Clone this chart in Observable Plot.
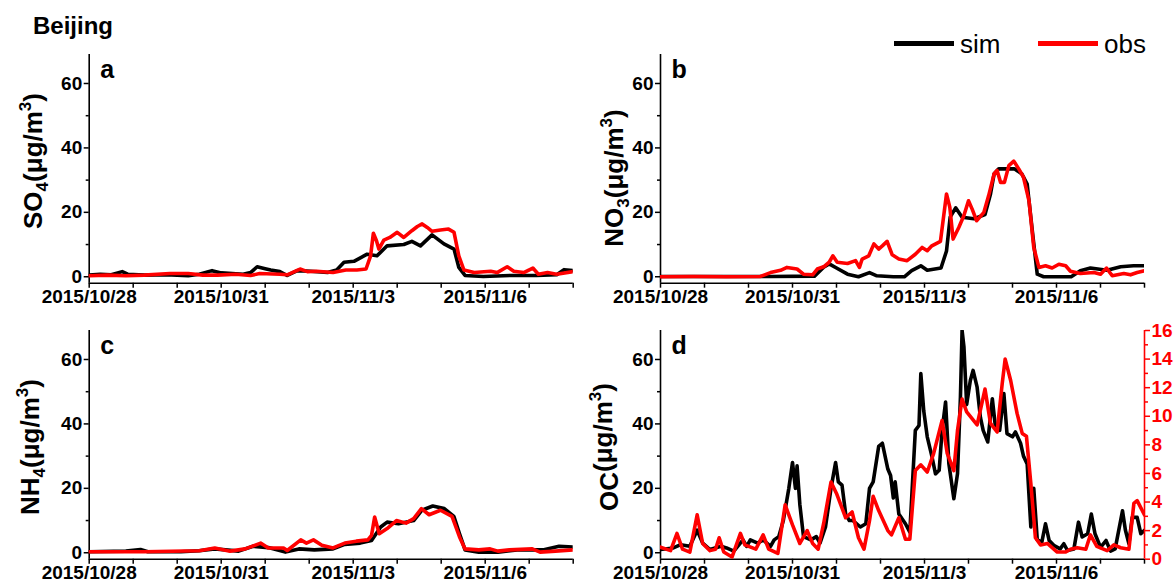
<!DOCTYPE html>
<html><head><meta charset="utf-8">
<script src="https://cdn.jsdelivr.net/npm/d3@7"></script>
<script src="https://cdn.jsdelivr.net/npm/@observablehq/plot@0.6"></script>
<style>
body{margin:0;background:#fff;}
#root{position:relative;width:1176px;height:588px;overflow:hidden;background:#fff;font-family:"Liberation Sans",Arial,sans-serif;}
#root svg{position:absolute;overflow:visible;}
</style></head><body><div id="root"></div>
<script>
// ---- data: [hours since 2015-10-28 00:00, value] ----
const so4Sim = [[0,0.5],[6,0.8],[12,0.6],[18,1.6],[21,0.8],[30,0.5],[42,0.6],[54,0.3],[60,0.8],[67,1.9],[72,1.2],[78,1.0],[84,0.8],[88,1.3],[91.6,3.1],[96,2.5],[99,2.1],[104,1.6],[108,0.4],[113.5,1.9],[120.7,1.7],[130,1.3],[135,2.1],[139,4.5],[144.4,4.8],[151.6,7],[157,6.5],[162.5,9.6],[171.6,10],[176,11],[180.7,9.6],[187,13],[193.5,10.2],[199,8.6],[201.6,2.9],[205,0.4],[215,0.1],[230,0.4],[244,0.4],[255,0.6],[259,2.2],[264,1.9]];
const so4Obs = [[0,0.3],[10,0.5],[20,0.3],[30,0.5],[44,1.0],[54,1.0],[62,0.5],[70,0.5],[80,0.8],[88,0.4],[93,1.0],[104,0.8],[108,0.6],[115,2.4],[119,1.6],[124,1.7],[133,1.3],[140,2.1],[146,2.1],[151,2.4],[153.5,6.5],[155,13.5],[156.7,11.2],[158,8.6],[160.7,11.4],[164,12.2],[168,13.8],[171.6,12.2],[176,14.3],[179,15.6],[181.6,16.4],[184.4,15.3],[187,14.1],[191.6,14.5],[196,14.8],[199,13.8],[201.6,6.5],[204.4,2.1],[210,1.3],[219,1.7],[222.5,1.3],[228,3.1],[231.6,1.7],[237,1.3],[242,2.7],[245,0.8],[250,1.3],[255,0.8],[264,1.6]];
const no3Sim = [[0,0.1],[60,0.1],[84,0.2],[89,3],[92,4],[96,2.7],[102,0.8],[108,0],[114,1.3],[118,0.3],[127,0],[133,0],[137,1.9],[142,3.4],[145.5,2],[153,2.7],[156,8],[158,18.5],[161,21.4],[164.5,18.5],[171,18],[177,19.3],[180,25.7],[182,32],[184.5,33.5],[193,33.5],[197,32],[200,28.8],[203,13.3],[205.5,0.8],[209,0],[224,0],[229,1.9],[234.5,2.7],[243.6,2],[251,3.1],[258,3.4],[264,3.4]];
const no3Obs = [[0,0],[18,0.1],[36,0],[54.5,0.1],[60,1.3],[65.5,2],[69,2.9],[74.5,2.4],[78,0.8],[83,0.6],[85.5,2.4],[89,3.1],[92,4.5],[94,6.5],[96.4,4.5],[102,4.1],[106.4,5],[108.5,2.9],[110,5.5],[113.6,6.5],[116.4,10.2],[119,8.6],[121,9.6],[123.6,11],[126.4,6.8],[130,5.5],[134.5,5],[139,7],[142.7,9.1],[145.5,8.1],[148,9.6],[152.7,11],[156,25.7],[157.8,21.6],[159.6,11.7],[162.7,15.3],[165.5,19],[168,23.6],[170,21],[172.4,17.4],[176.4,20],[179,25.2],[182,32],[183.6,33],[185.5,29.3],[187.6,29.3],[190,34.5],[192.7,35.9],[195.4,33.5],[198,30.9],[201,23.6],[203.6,9.1],[206.4,2.9],[210,3.4],[213.6,2.7],[217.3,3.9],[221,3.4],[223.6,1.7],[229,1],[236.4,1.3],[240,0.8],[243.3,2.7],[246.4,0.3],[252.7,1],[256.4,0.6],[260,1.3],[264,1.9]];
const nh4Sim = [[0,0.3],[20,0.5],[28,1],[32,0.3],[50,0.3],[60,0.6],[68.5,1.2],[81.5,0.5],[89.4,2],[97.7,1.6],[107,0.2],[114.4,1.2],[122.8,0.9],[133,1.2],[139.4,2.6],[147.8,3],[154,3.8],[159,8],[162.5,9.5],[168.7,9],[177,10],[181.5,13.2],[187.4,14.5],[193.7,13.7],[198.9,11.3],[202,5.9],[205,0.9],[212.5,0.2],[222.9,0.2],[233.4,0.9],[248,0.9],[256.3,2],[264,1.8]];
const nh4Obs = [[0,0.3],[30,0.3],[60,0.6],[68.5,1.5],[76.8,0.5],[85.1,1.2],[93.5,3],[97.7,1.5],[106,1.5],[108,0.7],[115.4,4],[118.5,3],[122.3,4],[126.9,2.3],[133,1.5],[139.4,3],[145.7,3.6],[152,4],[154,5.4],[155.7,11.1],[158.2,5.9],[162.5,7.5],[167.6,10],[172.8,9.2],[177,10.6],[181.2,13.7],[185.4,11.8],[191.6,13.2],[197.9,11.3],[202,4.9],[205,1.2],[212.5,0.9],[218.7,1.2],[222.9,0.5],[229.2,0.9],[241.7,1.2],[245.9,0.2],[254.3,0.5],[264,0.9]];
const ocSim = [[0,1],[7,1.5],[11,2.5],[16,2],[20,7],[23,3],[27,1],[33,2],[36,1.5],[40,0.5],[45,4],[47,2],[49,4],[53,3],[56,4],[60,2],[62,4],[64.5,5],[67,10],[70,20],[72,28],[73.6,20],[74.5,27],[76,15],[78,5],[82,4],[85,5],[87,3],[90,8],[93,20],[95.5,28],[97,22],[99,21],[101,12],[103,10],[105,10],[109,8],[112,9],[114,20],[116,22],[119,33],[121,34],[124,26],[125.5,24],[127,17],[128,22],[130,12],[133.6,9],[136,6.4],[139,38],[141,39.5],[142,55.6],[143.6,44],[145.5,36],[148,30],[150,24.5],[152,25.6],[153.6,38],[155.5,46.8],[157.3,27.6],[160,16.8],[162,24.5],[163.6,48.3],[164.5,69],[165.5,64],[167,46],[169,53.5],[170.5,56.6],[172.7,51.4],[174.5,42],[176,38],[178.5,34.4],[181,47.8],[182.7,39],[185,38],[187.3,49.4],[189,37],[192,36],[193.6,37.5],[196.4,34],[198,30],[200,27.6],[202,8],[203.6,20],[205.5,4],[208,3.3],[210,9],[212,3.8],[214.5,2.3],[218,1.2],[220,2.8],[222,0.7],[225.5,1.2],[228,9.5],[230,4.9],[233,5.9],[235,12],[237,5.9],[240,1.7],[243,3.8],[245.5,0.5],[248,1.2],[252,13],[253.6,7],[255.5,2.8],[257.3,11],[260,11],[262,5.9],[264,7]];
const ocObs = [[0,0.84],[5.5,0.6],[9,1.8],[12,0.7],[16,0.5],[20,3.1],[23,1.1],[27,0.6],[30,0.7],[32,1.5],[34.5,0.5],[39,0.15],[43.6,1.8],[46,1],[52,0.7],[56,1.7],[59,0.7],[64,0.4],[68,3.8],[72,2.4],[76,1.1],[80,2.0],[83,1.1],[86,0.7],[89,2.5],[93,5.4],[96,4.6],[101,2.9],[104.5,3.3],[108,1.5],[111,0.7],[114,2.7],[116,4.4],[119,3.4],[124,2.0],[126,1.7],[130,2.9],[133.6,1.4],[136,1.4],[139,6.2],[142,6.6],[145.5,6.1],[149,7.4],[153.6,9.7],[156.4,7.4],[160,6.2],[162,9.0],[164.5,11.2],[167,10.3],[172.7,9.4],[177,11.9],[180,9.5],[183.6,8.9],[186.4,12.3],[188,14.0],[191,12.5],[194.5,10.2],[197.3,8.8],[199.6,8.6],[202,5.3],[204.5,1.5],[207.3,1.0],[211,1.1],[216.4,0.5],[221,0.5],[223.6,0.7],[227.3,0.8],[232,0.7],[234.5,1.7],[238,0.9],[243.6,0.6],[247.3,1.0],[251,0.8],[255.5,0.7],[258.2,3.9],[260,4.1],[264,3.1]];

const xTickLabels = ["2015/10/28","2015/10/31","2015/11/3","2015/11/6"];
const yTicks = [0,20,40,60];
const yMinorTicks = [10,30,50];
const y2Ticks = [0,2,4,6,8,10,12,14,16];
const y2MinorTicks = [1,3,5,7,9,11,13,15];
const yDomain = [-2,69];
const y2Domain = [0,16];
const seriesNames = ["sim","obs"];
const seriesColors = ["#000000","#ff0000"];

// ---- helpers ----
const t0 = Date.UTC(2015,9,28);
const toDate = h => new Date(t0 + h*3600e3);
const xStart = toDate(0), xEnd = toDate(264);
const dayTicks = d3.utcDay.range(xStart, new Date(+xEnd + 1));
const fmtDate = d => `${d.getUTCFullYear()}/${d.getUTCMonth()+1}/${d.getUTCDate()}`;
const tickFmt = d => xTickLabels.includes(fmtDate(d)) ? fmtDate(d) : "";
const rows = arr => arr.map(([h,v]) => ({t: toDate(h), v}));
const FONT = '"Liberation Sans", Arial, sans-serif';
const LW = 3.6;
const root = document.getElementById("root");

function place(svg, left, top) {
  svg.style.left = left + "px"; svg.style.top = top + "px";
  root.appendChild(svg);
  return svg;
}

function panel(cfg) {
  const {left, top, width, height, ml, mr, mt, mb, sim, obs, letter, dual} = cfg;
  const marks = [
    Plot.ruleX([xStart], {stroke: "black", strokeWidth: 1.6}),
    Plot.ruleY([yDomain[0]], {stroke: "black", strokeWidth: 1.6}),
    Plot.axisY({ticks: yTicks, tickSize: 5, tickPadding: 2, fontSize: 19, fontWeight: "bold", strokeWidth: 1.5, label: null}),
    Plot.axisY({ticks: yMinorTicks, tickSize: 3, tickFormat: () => "", strokeWidth: 1.5, label: null}),
    Plot.axisX({ticks: dayTicks, tickSize: 5, tickPadding: 1, tickFormat: tickFmt, fontSize: 19, fontWeight: "bold", strokeWidth: 1.5, label: null}),
    Plot.line(rows(sim), {x: "t", y: "v", stroke: seriesColors[0], strokeWidth: LW, strokeLinejoin: "round", clip: true}),
  ];
  if (!dual) marks.push(Plot.line(rows(obs), {x: "t", y: "v", stroke: seriesColors[1], strokeWidth: LW, strokeLinejoin: "round", clip: true}));
  marks.push(Plot.text([letter], {frameAnchor: "top-left", dx: 11, dy: 6, fontSize: 25, fontWeight: "bold", fill: "black"}));
  const svg = Plot.plot({
    width, height, marginLeft: ml, marginRight: mr, marginTop: mt, marginBottom: mb,
    x: {type: "utc", domain: [xStart, xEnd]},
    y: {domain: yDomain},
    style: {background: "transparent", fontFamily: FONT, color: "black", overflow: "visible"},
    marks
  });
  place(svg, left, top);
  // y label with subscript / superscript
  const lab = d3.select(svg).append("text")
    .attr("transform", `translate(${cfg.labX},${cfg.labY}) rotate(-90)`)
    .attr("text-anchor", "middle")
    .style("font-family", FONT).style("font-weight", "bold").style("font-size", "26px").attr("fill", "black");
  lab.append("tspan").text(cfg.labMain);
  lab.append("tspan").attr("dy", 6).style("font-size", "17px").text(cfg.labSub);
  lab.append("tspan").attr("dy", -6).text("(μg/m");
  lab.append("tspan").attr("dy", -11).style("font-size", "17px").text("3");
  lab.append("tspan").attr("dy", 11).text(")");

  if (dual) {
    const svg2 = Plot.plot({
      width, height, marginLeft: ml, marginRight: mr, marginTop: mt, marginBottom: mb,
      x: {type: "utc", domain: [xStart, xEnd], axis: null},
      y: {domain: y2Domain},
      style: {background: "transparent", fontFamily: FONT, overflow: "visible"},
      marks: [
        Plot.ruleX([xEnd], {stroke: "red", strokeWidth: 1.6}),
        Plot.axisY({anchor: "right", ticks: y2Ticks, tickSize: 5, tickPadding: 2, fontSize: 19, fontWeight: "bold", color: "red", strokeWidth: 1.5, label: null}),
        Plot.axisY({anchor: "right", ticks: y2MinorTicks, tickSize: 3, tickFormat: () => "", color: "red", strokeWidth: 1.5, label: null}),
        Plot.line(rows(obs), {x: "t", y: "v", stroke: seriesColors[1], strokeWidth: LW, strokeLinejoin: "round", clip: true})
      ]
    });
    place(svg2, left, top);
  }
}

panel({left: 0, top: 0, width: 588, height: 310, ml: 88.7, mr: 15.3, mt: 54, mb: 27.3,
  sim: so4Sim, obs: so4Obs, letter: "a", labMain: "SO", labSub: "4", labX: 41.5, labY: 161});
panel({left: 588, top: 0, width: 588, height: 310, ml: 72, mr: 32, mt: 54, mb: 27.3,
  sim: no3Sim, obs: no3Obs, letter: "b", labMain: "NO", labSub: "3", labX: 34.5, labY: 178});
panel({left: 0, top: 294, width: 588, height: 294, ml: 88.7, mr: 15.3, mt: 36, mb: 29.3,
  sim: nh4Sim, obs: nh4Obs, letter: "c", labMain: "NH", labSub: "4", labX: 38.5, labY: 153});
panel({left: 588, top: 294, width: 588, height: 294, ml: 72, mr: 32, mt: 36, mb: 29.3,
  sim: ocSim, obs: ocObs, letter: "d", labMain: "OC", labSub: "", labX: 30, labY: 153, dual: true});

// title and legend
const deco = d3.select(root).append("svg").attr("width", 1176).attr("height", 70)
  .style("left", "0px").style("top", "0px").style("font-family", FONT);
deco.append("text").attr("x", 33).attr("y", 34).style("font-weight", "bold").style("font-size", "24px").text("Beijing");
const legX = [894, 1038];
seriesNames.forEach((name, i) => {
  deco.append("line").attr("x1", legX[i]).attr("x2", legX[i] + 60).attr("y1", 43.5).attr("y2", 43.5)
    .attr("stroke", seriesColors[i]).attr("stroke-width", 5);
  deco.append("text").attr("x", legX[i] + 66).attr("y", 53).style("font-size", "26px").text(name);
});
</script>
</body></html>
